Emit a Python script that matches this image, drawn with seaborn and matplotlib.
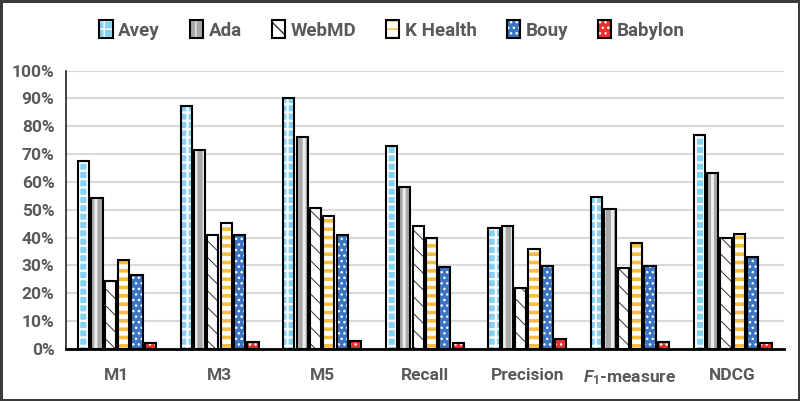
import pandas as pd
import matplotlib
matplotlib.use("Agg")
import matplotlib.pyplot as plt
import seaborn as sns
from matplotlib.ticker import PercentFormatter, MultipleLocator

# dados (em %)
metricas = ["M1", "M3", "M5", "Recall", "Precision", r"$\mathit{F}_{\mathit{1}}$-measure", "NDCG"]
sistemas = ["Avey", "Ada", "WebMD", "K Health", "Bouy", "Babylon"]
avey = [67.6, 87.3, 90.2, 73.0, 43.5, 54.7, 76.8]
ada = [54.3, 71.4, 76.3, 58.3, 44.1, 50.2, 63.2]
webmd = [24.5, 41.0, 50.5, 44.1, 21.8, 29.1, 39.8]
khealth = [31.8, 45.1, 47.6, 40.0, 35.8, 38.0, 41.4]
bouy = [26.7, 41.0, 41.0, 29.3, 29.7, 29.8, 33.1]
babylon = [2.0, 2.5, 2.8, 2.2, 3.6, 2.5, 2.2]

valores = [avey, ada, webmd, khealth, bouy, babylon]
df = pd.DataFrame([
    {"METRICA": m, "SISTEMA": s, "VALOR": v}
    for s, serie in zip(sistemas, valores)
    for m, v in zip(metricas, serie)
])

# (cor de fundo, cor da hachura, hachura, espessura da hachura)
estilos = {
    "Avey": ("#86D2F4", "white", "++", 1.6),
    "Ada": ("#A8A8A8", "#EDEDED", "||", 2.2),
    "WebMD": ("white", "#333333", "\\\\", 0.7),
    "K Health": ("white", "#F6BE3C", "--", 2.6),
    "Bouy": ("#3B74C2", "white", "...", 1.0),
    "Babylon": ("#E8302A", "white", "...", 1.0),
}

sns.set_style("white")
plt.rcParams["font.family"] = ["Roboto", "DejaVu Sans"]
plt.rcParams["mathtext.fontset"] = "custom"
plt.rcParams["mathtext.it"] = "Roboto:italic:bold"
plt.rcParams["mathtext.rm"] = "Roboto:bold"
plt.rcParams["mathtext.bf"] = "Roboto:bold"

fig = plt.figure(figsize=(8, 4.01), dpi=100, linewidth=2.5, edgecolor="#3A3A3A")
ax = fig.add_axes([0.082, 0.13, 0.898, 0.694])

sns.barplot(data=df, x="METRICA", y="VALOR", hue="SISTEMA", order=metricas,
            hue_order=sistemas, width=0.78, gap=0.16, legend=False, ax=ax,
            linewidth=0, errorbar=None)
for nome, cont in zip(sistemas, ax.containers[:6]):
    face, cor_h, hatch, lw_h = estilos[nome]
    for p in cont:
        p.set_facecolor(face)
        p.set_edgecolor(cor_h)
        p.set_hatch(hatch)
        if hasattr(p, "set_hatch_linewidth"):
            p.set_hatch_linewidth(lw_h)
        p.set_linewidth(0)

# contorno preto por cima
sns.barplot(data=df, x="METRICA", y="VALOR", hue="SISTEMA", order=metricas,
            hue_order=sistemas, width=0.78, gap=0.16, legend=False, ax=ax,
            errorbar=None)
for cont in ax.containers[6:]:
    for p in cont:
        p.set_facecolor("none")
        p.set_edgecolor("black")
        p.set_linewidth(1.5)

ax.set_ylim(0, 100)
ax.set_xlim(-0.5, 6.5)
ax.yaxis.set_major_locator(MultipleLocator(10))
ax.yaxis.set_major_formatter(PercentFormatter(100, decimals=0))
ax.grid(axis="y", color="#D9D9D9", linewidth=1.5)
ax.set_axisbelow(True)
for lado in ["top", "right"]:
    ax.spines[lado].set_visible(False)
ax.spines["left"].set_color("#222222")
ax.spines["left"].set_linewidth(1.2)
ax.spines["bottom"].set_color("black")
ax.spines["bottom"].set_linewidth(2)
ax.set_xlabel("")
ax.set_ylabel("")
ax.tick_params(axis="both", length=0, labelsize=12.5, labelcolor="#595959")
ax.tick_params(axis="x", pad=14)
ax.tick_params(axis="y", pad=8)
for t in ax.get_xticklabels() + ax.get_yticklabels():
    t.set_fontweight("bold")

handles = [(a, b) for a, b in zip(ax.containers[:6], ax.containers[6:])]
fig.legend(handles, sistemas, loc="center", bbox_to_anchor=(0.49, 0.925), ncol=6,
           frameon=False, handlelength=0.7, handleheight=1.1,
           handletextpad=0.3, columnspacing=1.6, labelcolor="#595959",
           prop={"family": ["Roboto", "DejaVu Sans"], "weight": "bold", "size": 13.5})

plt.savefig("out.png", dpi=100)
